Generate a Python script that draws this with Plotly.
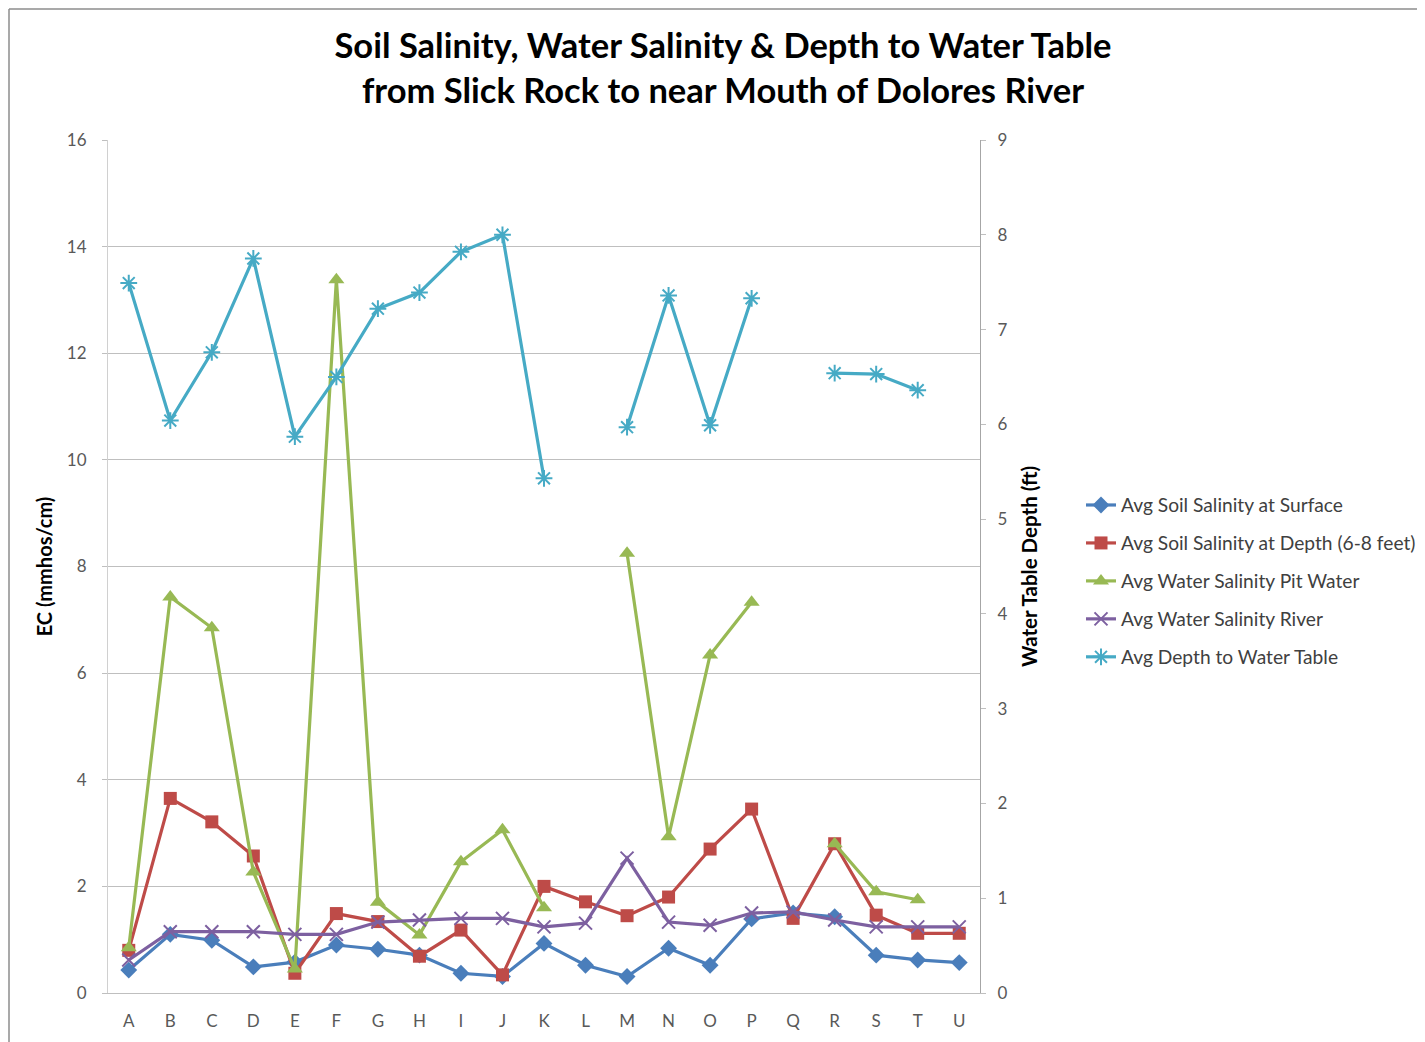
import plotly.graph_objects as go

categories = list("ABCDEFGHIJKLMNOPQRSTU")

soil_surface = [0.43, 1.10, 0.99, 0.49, 0.58, 0.90, 0.82, 0.71, 0.37, 0.31, 0.93,
                0.52, 0.31, 0.84, 0.52, 1.39, 1.50, 1.43, 0.71, 0.62, 0.57]
soil_depth = [0.80, 3.65, 3.21, 2.57, 0.37, 1.49, 1.34, 0.69, 1.18, 0.34, 2.00,
              1.71, 1.45, 1.80, 2.70, 3.45, 1.40, 2.80, 1.46, 1.12, 1.12]
pit_water = [0.85, 7.43, 6.85, 2.27, 0.45, 13.38, 1.70, 1.09, 2.46, 3.06, 1.60,
             None, 8.25, 2.93, 6.34, 7.33, None, 2.80, 1.90, 1.75, None]
river_water = [0.62, 1.15, 1.15, 1.15, 1.10, 1.10, 1.33, 1.37, 1.40, 1.40, 1.24,
               1.31, 2.53, 1.33, 1.27, 1.50, 1.52, 1.37, 1.24, 1.24, 1.24]
depth_to_wt = [7.49, 6.04, 6.76, 7.75, 5.87, 6.50, 7.22, 7.39, 7.82, 8.00, 5.43,
               None, 5.97, 7.36, 5.99, 7.33, None, 6.54, 6.53, 6.36, None]

left_ticks = [0, 2, 4, 6, 8, 10, 12, 14, 16]
right_ticks = [0, 1, 2, 3, 4, 5, 6, 7, 8, 9]

FONT = "Lato, 'Open Sans', sans-serif"
TICK_COLOR = "#595959"

# page is rendered with an 8px body margin
OFF = 8
W, H = 1425 - OFF, 1042 - OFF
PL, PR, PT, PB = 108 - OFF, 980 - OFF, 140 - OFF, 993 - OFF  # plot box in figure px


def px_x(x):  # page px -> paper x
    return (x - OFF - PL) / (PR - PL)


def px_y(y):  # page px -> paper y
    return (PB - (y - OFF)) / (PB - PT)


fig = go.Figure()

series = [
    ("Avg Soil Salinity at Surface", soil_surface, "#4A7EBB", "diamond", 13, "y", 0),
    ("Avg Soil Salinity at Depth (6-8 feet)", soil_depth, "#BE4B48", "square", 13, "y", 0),
    ("Avg Water Salinity Pit Water", pit_water, "#98B954", "triangle-up", 14, "y", 0),
    ("Avg Water Salinity River", river_water, "#7D60A0", "x-thin-open", 13, "y", 2),
    ("Avg Depth to Water Table", depth_to_wt, "#46AAC5", "asterisk-open", 14, "y2", 2),
]

for i, (name, vals, color, sym, size, yax, mlw) in enumerate(series):
    fig.add_trace(go.Scatter(
        x=categories, y=vals, name=name, yaxis=yax,
        mode="lines+markers",
        line=dict(color=color, width=3.2),
        marker=dict(symbol=sym, size=size, color=color,
                    line=dict(color=color, width=mlw)),
        legendgroup=f"g{i}",
        connectgaps=False,
    ))

fig.update_layout(
    width=W, height=H,
    paper_bgcolor="white", plot_bgcolor="white",
    margin=dict(l=PL, r=W - PR, t=PT, b=H - PB, autoexpand=False),
    font=dict(family=FONT, color=TICK_COLOR),
    title=dict(
        text="Soil Salinity, Water Salinity &amp; Depth to Water Table<br>from Slick Rock to near Mouth of Dolores River",
        x=(723 - OFF) / W, xanchor="center", xref="container",
        y=1 - (58 - OFF) / H, yanchor="middle", yref="container",
        font=dict(family=FONT, size=34.5, color="#000000", weight="bold"),
    ),
    showlegend=True,
    legend=dict(
        x=px_x(1081), xanchor="left",
        y=px_y(581), yanchor="middle",
        font=dict(family=FONT, size=19.2, color="#404040"),
        tracegroupgap=10,
        bgcolor="rgba(0,0,0,0)",
    ),
    xaxis=dict(
        type="category", range=[-0.5, 20.5],
        showgrid=False, showline=True, linecolor="#BFBFBF", linewidth=1,
        ticks="", tickfont=dict(family=FONT, size=17, color=TICK_COLOR),
        ticklabelstandoff=13,
        zeroline=False, mirror=False,
    ),
    yaxis=dict(
        range=[0, 16], tickvals=left_ticks,
        showgrid=True, gridcolor="#BFBFBF", gridwidth=1,
        showline=True, linecolor="#D0D0D0", linewidth=1,
        ticks="outside", ticklen=5, tickcolor="#BFBFBF",
        tickfont=dict(family=FONT, size=17, color=TICK_COLOR),
        ticklabelstandoff=12,
        zeroline=False,
        title=dict(text="<b>EC (mmhos/cm)</b>", standoff=8,
                   font=dict(family=FONT, size=20, color="#000000")),
    ),
    yaxis2=dict(
        range=[0, 9], tickvals=right_ticks, overlaying="y", side="right",
        showgrid=False, showline=True, linecolor="#A6A6A6", linewidth=1,
        ticks="outside", ticklen=5, tickcolor="#BFBFBF",
        tickfont=dict(family=FONT, size=17, color=TICK_COLOR),
        ticklabelstandoff=8,
        zeroline=False,
        title=dict(text="<b>Water Table Depth (ft)</b>", standoff=16,
                   font=dict(family=FONT, size=20.5, color="#000000")),
    ),
    shapes=[
        dict(type="line", xref="paper", yref="paper",
             x0=px_x(9), x1=1.6, y0=px_y(9), y1=px_y(9),
             line=dict(color="#8C8C8C", width=1.5)),
        dict(type="line", xref="paper", yref="paper",
             x0=px_x(9), x1=px_x(9), y0=-0.1, y1=px_y(9),
             line=dict(color="#8C8C8C", width=1.5)),
    ],
)

fig.write_html("out.html")
